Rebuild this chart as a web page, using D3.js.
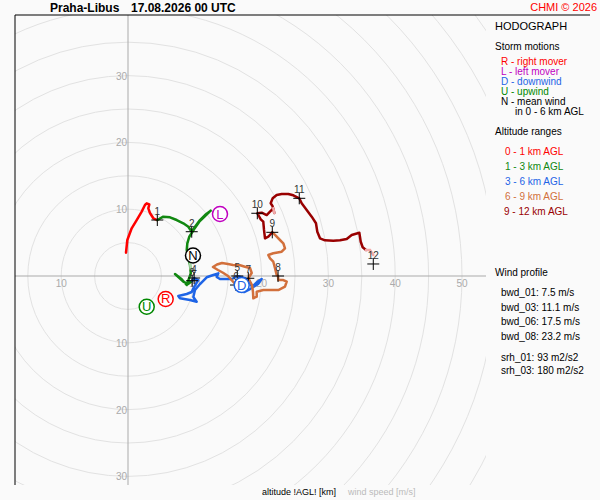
<!DOCTYPE html>
<html><head><meta charset="utf-8">
<script src="https://cdn.jsdelivr.net/npm/d3@7"></script>
<style>
html,body{margin:0;padding:0;background:#fafafa;}
svg{display:block;font-family:"Liberation Sans",Arial,sans-serif;}
</style></head>
<body><svg id="c" width="600" height="500"></svg>
<script>
// ---- data (u, v in m/s) ----
const layer01 = [[-0.30,3.49],[-0.10,5.39],[0.55,7.14],[1.30,8.38],[2.05,9.63],[2.54,10.63],[2.80,10.88],[3.19,10.73],[3.04,10.13],[3.29,9.43],[3.79,8.64],[4.39,8.38]];
const layer13 = [[4.39,8.38],[5.28,8.88],[6.29,8.79],[7.29,8.38],[8.28,7.89],[9.03,7.38],[9.54,6.63],[10.03,7.38],[10.78,8.38],[11.53,9.13],[12.38,9.78],[11.53,8.98],[10.67,8.13],[9.88,6.99],[9.18,5.88],[8.88,4.89],[8.79,3.89],[9.03,2.89],[9.28,1.65],[9.40,0.40],[8.79,-1.35],[8.04,-0.49],[7.04,0.30],[8.28,-0.85],[9.00,-1.20],[9.60,-0.70]];
const layer36 = [[9.60,-0.70],[9.90,-0.30],[10.52,-0.60],[9.78,-1.84],[9.54,-2.40],[8.79,-2.69],[7.53,-2.99],[7.78,-3.34],[9.28,-3.59],[10.28,-3.85],[9.78,-3.14],[10.03,-2.10],[10.78,-1.20],[11.78,-0.19],[12.77,0.15],[13.52,0.40],[13.28,-0.15],[13.77,-0.45],[15.57,-0.45],[16.36,0.00],[17.37,-0.30],[18.11,-0.60],[18.56,-1.65],[19.31,-0.90],[20.01,-0.45],[19.46,-1.20],[18.26,-1.95],[17.37,-2.40],[16.47,-2.25],[16.17,-1.35]];
const layer69 = [[16.17,-1.35],[14.97,0.00],[14.22,0.49],[13.47,0.90],[12.72,1.35],[13.32,1.72],[14.07,1.95],[14.97,1.80],[15.72,1.65],[16.77,1.60],[17.51,1.39],[18.26,1.20],[18.52,0.45],[18.01,-0.34],[18.56,-1.35],[18.71,-2.40],[18.76,-3.34],[19.27,-3.10],[19.27,-2.35],[20.25,-2.10],[21.51,-2.10],[22.50,-2.10],[23.50,-1.60],[23.76,-0.85],[23.25,-0.60],[22.50,-0.60],[22.46,0.00],[22.26,0.15],[22.01,1.15],[21.75,2.14],[21.26,2.65],[21.00,3.14],[21.75,3.40],[23.01,3.64],[23.50,4.15],[23.25,4.90],[22.75,5.39],[22.01,6.14],[21.60,6.54]];
const layer912 = [[21.60,6.54],[21.00,5.88],[20.51,5.64],[20.36,6.89],[20.25,8.13],[19.87,8.49],[19.51,9.13],[19.36,9.39],[20.01,9.48],[20.76,9.13],[21.26,9.63],[21.75,10.13],[21.90,9.43],[21.63,10.48],[21.36,10.88],[21.66,11.63],[22.26,12.13],[23.01,12.28],[24.00,12.28],[24.75,12.08],[25.64,11.63],[26.00,10.88],[26.75,9.88],[27.50,8.88],[28.14,7.89],[28.34,6.63],[28.74,5.64],[29.49,5.34],[30.73,5.28],[31.74,5.34],[32.74,5.54],[33.49,6.14],[34.63,6.48],[34.84,5.13],[35.13,4.30],[35.63,3.89]];
const fadedRed = [[[21.75,10.13],[21.90,9.43]],[[35.63,3.89],[36.23,3.89],[36.72,3.14]]];
const fadedGreen = [[9.30,2.00],[9.38,0.90]];
const heightLabels = ["1","2","3","4","5","6","7","8","9","10","11","12"];
const heightU = [4.39,9.54,9.60,9.90,16.36,16.17,18.01,22.46,21.60,19.36,25.64,36.72];
const heightV = [8.38,6.63,-0.70,-0.30,0.00,-1.35,-0.34,0.00,6.54,9.39,11.63,1.80];
const stormLetters = ["R","L","D","U","N"];
const stormU = [5.64,13.77,17.02,2.80,9.73];
const stormV = [-3.44,9.28,-1.35,-4.60,3.07];
const stormColors = ["#ff0000","#c000c0","#1e64e6","#008800","#000000"];
const ringValues = [5,10,15,20,25,30,35,40,45,50,55,60,65,70];
const xTicks = [-10,10,20,30,40,50];
const yTicks = [30,20,10,-10,-20,-30];
const layerColors = ["#ff0000","#118811","#1e64e6","#d2703c","#990000"];
const legendMotions = ["R - right mover","L - left mover","D - downwind","U - upwind","N - mean wind"];
const legendRanges = ["0 - 1 km AGL","1 - 3 km AGL","3 - 6 km AGL","6 - 9 km AGL","9 - 12 km AGL"];
const profileTexts = ["bwd_01: 7.5 m/s","bwd_03: 11.1 m/s","bwd_06: 17.5 m/s","bwd_08: 23.2 m/s"];
const srhTexts = ["srh_01: 93 m2/s2","srh_03: 180 m2/s2"];

// ---- layout ----
const svg = d3.select("#c");
const L = 15, T = 15, R = 486, B = 485;
const x = d3.scaleLinear().domain([0,50]).range([128,462]);
const y = d3.scaleLinear().domain([0,30]).range([276,75.6]);
const rpx = v => x(v) - x(0);

svg.append("rect").attr("width",600).attr("height",500).attr("fill","#fafafa");
svg.append("defs").append("clipPath").attr("id","pc").append("rect")
  .attr("x",L).attr("y",T).attr("width",R-L).attr("height",B-T);
const plot = svg.append("g").attr("clip-path","url(#pc)");

plot.selectAll("circle.ring").data(ringValues).join("circle")
  .attr("cx",x(0)).attr("cy",y(0)).attr("r",d=>rpx(d))
  .attr("fill","none").attr("stroke","#e2e2e2").attr("stroke-width",1);

// axes
svg.append("line").attr("x1",x(0)).attr("x2",x(0)).attr("y1",T).attr("y2",B).attr("stroke","#aaa");
svg.append("line").attr("x1",L).attr("x2",R).attr("y1",y(0)).attr("y2",y(0)).attr("stroke","#aaa");
// frame
svg.append("line").attr("x1",L).attr("x2",590).attr("y1",T).attr("y2",T).attr("stroke","#000");
svg.append("line").attr("x1",L).attr("x2",L).attr("y1",T).attr("y2",B).attr("stroke","#000");

// tick labels
svg.selectAll("text.xt").data(xTicks).join("text")
  .attr("x",d=>x(d)).attr("y",y(0)+11).attr("text-anchor","middle")
  .attr("font-size",10).attr("fill","#aaa").text(d=>Math.abs(d));
svg.selectAll("text.yt").data(yTicks).join("text")
  .attr("x",x(0)-1).attr("y",d=>y(d)+4).attr("text-anchor","end")
  .attr("font-size",10).attr("fill","#aaa").text(d=>Math.abs(d));

// hodograph
const line = d3.line().x(d=>x(d[0])).y(d=>y(d[1]));
const layers = [layer01,layer13,layer36,layer69,layer912];
layers.forEach((pts,i)=>{
  svg.append("path").attr("d",line(pts)).attr("fill","none")
    .attr("stroke",layerColors[i]).attr("stroke-width",2.5)
    .attr("stroke-linejoin","round").attr("stroke-linecap","round");
});
fadedRed.forEach(pts=>{
  svg.append("path").attr("d",line(pts)).attr("fill","none")
    .attr("stroke","#f2a8a8").attr("stroke-width",2.5).attr("stroke-linecap","round");
});
svg.append("path").attr("d",line(fadedGreen)).attr("fill","none")
  .attr("stroke","#a8d8a8").attr("stroke-width",2.5);

// height crosses
heightLabels.forEach((lab,i)=>{
  const cx = x(heightU[i]), cy = y(heightV[i]);
  const g = svg.append("g");
  g.append("line").attr("x1",cx-6).attr("x2",cx+6).attr("y1",cy).attr("y2",cy).attr("stroke","#000");
  g.append("line").attr("x1",cx).attr("x2",cx).attr("y1",cy-6).attr("y2",cy+6).attr("stroke","#000");
  g.append("text").attr("x",cx).attr("y",cy-5).attr("text-anchor","middle")
    .attr("font-size",10).attr("fill","#333").text(lab);
});

// storm motion markers
stormLetters.forEach((s,i)=>{
  const cx = x(stormU[i]), cy = y(stormV[i]);
  svg.append("circle").attr("cx",cx).attr("cy",cy).attr("r",7.5)
    .attr("fill","#fff").attr("stroke",stormColors[i]).attr("stroke-width",1.5);
  svg.append("text").attr("x",cx).attr("y",cy+4.5).attr("text-anchor","middle")
    .attr("font-size",13).attr("fill",stormColors[i]).text(s);
});

// title
svg.append("text").attr("x",50).attr("y",12).attr("font-size",12).attr("font-weight","bold").text("Praha-Libus");
svg.append("text").attr("x",131).attr("y",12).attr("font-size",12).attr("font-weight","bold").text("17.08.2026 00 UTC");
svg.append("text").attr("x",597).attr("y",11).attr("text-anchor","end").attr("font-size",11).attr("fill","#ff0000").text("CHMI \u00a9 2026");

// legend
svg.append("text").attr("x",495).attr("y",30).attr("font-size",11).text("HODOGRAPH");
svg.append("text").attr("x",495).attr("y",50).attr("font-size",10).text("Storm motions");
legendMotions.forEach((t,i)=>{
  svg.append("text").attr("x",501).attr("y",65+i*10).attr("font-size",10).attr("fill",stormColors[i]).text(t);
});
svg.append("text").attr("x",515).attr("y",115).attr("font-size",10).text("in 0 - 6 km AGL");
svg.append("text").attr("x",495).attr("y",135).attr("font-size",10).text("Altitude ranges");
legendRanges.forEach((t,i)=>{
  svg.append("text").attr("x",505 - (i===4?1:0)).attr("y",155+i*15).attr("font-size",10).attr("fill",layerColors[i]).text(t);
});
svg.append("text").attr("x",495).attr("y",276).attr("font-size",10).text("Wind profile");
profileTexts.forEach((t,i)=>{
  svg.append("text").attr("x",501).attr("y",296+i*14.7).attr("font-size",10).text(t);
});
srhTexts.forEach((t,i)=>{
  svg.append("text").attr("x",501).attr("y",361+i*12.5).attr("font-size",10).text(t);
});

// bottom
svg.append("text").attr("x",262).attr("y",495).attr("font-size",9).text("altitude !AGL! [km]");
svg.append("text").attr("x",348).attr("y",495).attr("font-size",9).attr("fill","#bbb").text("wind speed [m/s]");
</script></body></html>
